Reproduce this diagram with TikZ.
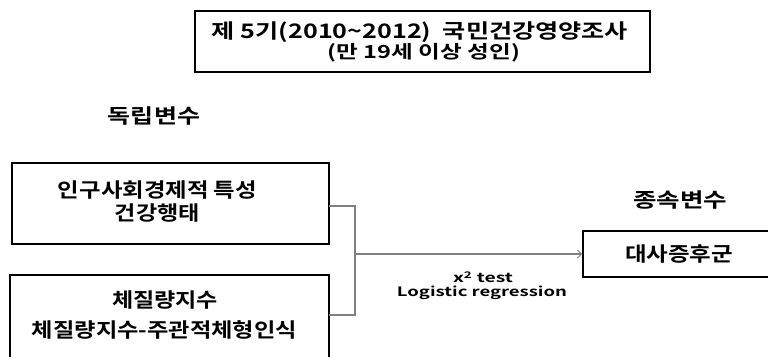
\documentclass[tikz,border=0pt]{standalone}
\usepackage{graphicx}
\usepackage{fontspec}
\setmainfont{Noto Sans CJK KR}[BoldFont={* Bold}]
\usetikzlibrary{arrows.meta}
\newcommand\fitw[3]{\resizebox{#1pt}{\height}{\fontsize{#2}{#2}\selectfont\bfseries #3}}
\begin{document}
\begin{tikzpicture}[x=1pt,y=-1pt,
  box/.style={draw=black,line width=1.8pt},
  txt/.style={inner sep=0pt,anchor=center},
  conn/.style={draw=black!50,line width=1.1pt}]
\useasboundingbox (0,0) rectangle (768,356);
\clip (0,0) rectangle (768,356);
% top box
\draw[box,line width=1.6pt] (195,11) rectangle (650,72);
\node[txt] (t1) at (420,32) {\fitw{416}{20}{제 5기(2010\textasciitilde 2012)\ \ 국민건강영양조사}};
\node[txt] (t2) at (424,53) {\fitw{192}{18}{(만 19세 이상 성인)}};
% labels
\node[txt] (indep) at (154,116) {\fitw{92}{20}{독립변수}};
\node[txt] (dep) at (680,200) {\fitw{94}{20}{종속변수}};
% left boxes
\draw[box] (12,163) rectangle (329,244);
\coordinate (b1r) at (329,206);
\node[txt] (b1a) at (157.5,190) {\fitw{199}{20}{인구사회경제적 특성}};
\node[txt] (b1b) at (157.5,213) {\fitw{85}{20}{건강행태}};
\draw[box] (10,275) rectangle (329,380);
\coordinate (b2r) at (329,315);
\node[txt] (b2a) at (165,300) {\fitw{106}{20}{체질량지수}};
\node[txt] (b2b) at (164.5,330) {\fitw{265}{20}{체질량지수-주관적체형인식}};
% right box
\draw[box] (583,231) rectangle (775,277);
\coordinate (b3l) at (582,254);
\node[txt] (b3) at (679,254) {\fitw{108}{20}{대사증후군}};
% connectors
\coordinate (j) at (355,254);
\draw[conn] (b1r) -| (j) |- (b2r);
\draw[conn,-{Straight Barb[length=4pt,width=8pt,line width=0.8pt]}] (j) -- (b3l);
\node[txt] (stat1) at (483,277) {\fitw{60}{13}{x\textsuperscript{2} test}};
\node[txt] (stat2) at (482,293) {\fitw{170}{13}{Logistic regression}};
\end{tikzpicture}
\end{document}
